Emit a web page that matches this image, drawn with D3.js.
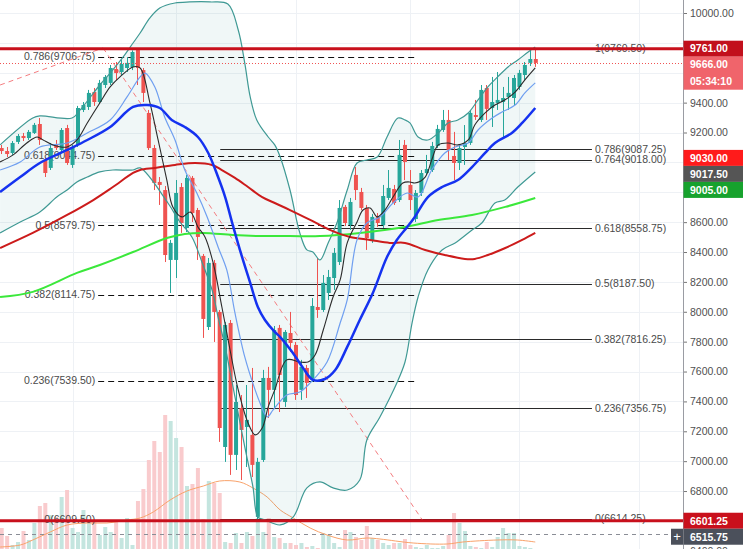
<!DOCTYPE html>
<html>
<head>
<meta charset="utf-8">
<script src="https://cdn.jsdelivr.net/npm/d3@7"></script>
<style>
body { margin: 0; background: #fff; }
svg { display: block; font-family: "Liberation Sans", Arial, sans-serif; }
</style>
</head>
<body>
<script>
// daily candles (index 0 = leftmost)
let opens  = [9096,9076,9063,9137,9177,9163,9197,9257,9016,8963,9117,9083,9230,8983,9117,9351,9371,9471,9404,9518,
              9532,9625,9605,9632,9638,9752,9618,9331,9096,8869,8815,8347,8347,8835,8561,8896,8681,8374,7898,8327,
              7999,7095,7925,7042,7356,7229,7176,6627,7008,7557,7477,7892,7396,7858,7778,7477,7624,7544,8032,8012,
              8126,8226,8333,8702,8581,8916,8802,8695,8481,8635,8581,8762,8822,8748,9117,8849,8621,8795,8929,8949,
              9110,9217,9284,9043,8996,9103,9130,9317,9284,9498,9364,9398,9404,9438,9431,9505,9585,9666,9692]
let highs  = [9117,9103,9143,9190,9197,9217,9264,9297,9030,9130,9150,9230,9251,9117,9378,9404,9485,9498,9552,9585,
              9652,9672,9685,9705,9750,9760,9632,9351,9117,8902,8842,8481,8882,8862,8916,8909,8695,8387,8360,8347,
              8012,7932,7945,7510,7443,7510,7624,7022,7611,7631,7905,7912,7878,7999,7798,7678,7644,8092,8360,8246,
              8280,8427,8748,8715,8762,8969,8829,8715,8655,8661,8849,8949,8849,9150,9150,8949,8815,8949,9050,9137,
              9251,9351,9351,9204,9117,9250,9351,9418,9518,9518,9572,9605,9505,9572,9585,9619,9672,9752,9761]
let lows   = [9056,9036,9050,9123,9143,9150,9190,9117,8902,8949,9083,9070,8983,8963,9103,9337,9351,9378,9391,9498,
              9518,9552,9585,9605,9618,9518,9404,9083,8815,8715,8333,8126,8226,8528,8534,8601,8347,7825,7878,7798,
              7129,6995,6908,6941,6874,6961,6894,6610,6995,7289,7356,7329,7363,7731,7410,7410,7423,7530,7959,7999,
              8079,8146,8313,8574,8548,8748,8681,8414,8461,8568,8561,8748,8715,8735,8882,8681,8601,8775,8916,8936,
              9096,9204,9016,8882,8949,8983,9117,9284,9270,9284,9237,9351,9170,9351,9384,9485,9552,9645,9639]
let closes = [9076,9056,9130,9177,9163,9204,9251,9150,8929,9096,9096,9217,8996,9103,9364,9384,9465,9404,9532,9572,
              9632,9598,9659,9666,9739,9632,9465,9096,8862,8849,8380,8461,8795,8594,8896,8661,8501,7952,8327,7999,
              7222,7912,7042,7396,7209,7276,6975,6995,7557,7477,7878,7577,7865,7791,7443,7631,7524,8039,8012,8193,
              8233,8394,8695,8594,8735,8815,8695,8494,8635,8594,8775,8829,8728,9050,9003,8748,8795,8929,8956,9110,
              9224,9284,9083,8996,9096,9130,9331,9304,9485,9358,9404,9418,9431,9465,9565,9599,9652,9692,9666]
let volumes = [2400,1600,700,1000,2100,1200,2900,4600,4900,3700,3500,5500,6200,2400,2000,4200,2900,3200,1700,2500,
               2000,3000,1400,3400,700,5100,6300,9200,11100,10000,13700,13100,11400,10500,6600,6800,8400,3300,7100,6900,
               5900,1000,900,1900,900,2000,1600,3400,2000,3400,1500,1400,900,900,700,900,500,600,400,1900,
               1700,900,500,2200,2000,1500,1200,2600,1400,1200,900,700,900,900,1300,700,500,400,700,400,
               400,600,1700,3900,2900,2100,600,500,400,1000,500,1500,2400,1900,1900,600,500,400,300]

// indicator lines, [candle index, value]
let bbUpper = [[-0.3,9117],[5.7,9297],[7,9311],[12.9,9297],[14.4,9351],[18,9518],[19.9,9598],[22.3,9706],[24.1,9799],
  [25.4,9866],[27.2,9967],[29,10033],[31.8,10067],[34.5,10074],[38.2,10074],[41.5,10060],[43.4,9886],[44.6,9665],
  [45.6,9438],[46.8,9284],[48.9,9170],[50.1,9117],[51.1,9036],[52.9,8815],[54.7,8528],[56,8414],[57.1,8400],
  [58.4,8347],[59.9,8461],[61.5,8594],[63.4,8815],[65.2,8996],[67,9016],[68.9,9036],[70.7,9170],[72.7,9297],
  [74,9284],[74.9,9264],[76.4,9170],[78.2,9150],[80.1,9197],[81.9,9264],[83.7,9284],[85.6,9331],[87.4,9418],
  [89.2,9505],[91,9572],[92.9,9639],[94.7,9685],[96.6,9739],[97.9,9772]]
let bbLower = [[-0.3,8528],[3.4,8601],[7,8668],[10.1,8768],[12,8815],[13.8,8869],[15.7,8902],[18,8936],[20.4,8949],
  [24.1,8949],[25.4,8963],[30.5,8728],[32.7,8601],[34.9,8501],[36.8,8327],[38.6,8146],[39.7,7965],[41,7765],
  [42.8,7430],[44.6,7095],[46.1,6828],[47,6627],[48.3,6607],[51.1,6573],[53.5,6627],[56,6821],[58.4,6861],
  [60.8,6821],[63.4,6807],[65.7,6874],[67,7142],[69.4,7296],[72.5,7524],[74,7664],[75.3,7925],[76.4,8099],
  [78.2,8280],[80.8,8414],[83.2,8461],[86.3,8548],[88.1,8594],[90.5,8728],[92.3,8748],[94.7,8835],[97.9,8936]]
let blueMA = [[-0.3,8802],[3.4,8902],[7,8996],[12,9083],[15.7,9150],[19.9,9237],[24.1,9371],[26.7,9384],[29,9364],
  [31.2,9284],[33.6,9237],[36,9170],[37.9,9063],[39.7,8902],[41,8768],[42.3,8594],[44.1,8367],[45.6,8193],[47,8032],
  [48.3,7945],[50.1,7865],[51.1,7831],[53.3,7731],[55.3,7624],[57.1,7544],[59.3,7550],[61.2,7610],[63.4,7765],
  [65.7,7945],[68.1,8126],[70.7,8367],[72.5,8481],[74.4,8568],[75.8,8635],[78.2,8768],[80.8,8835],[83.7,8882],
  [86.3,8969],[88.7,9063],[90.5,9130],[93.6,9197],[95.5,9264],[97.9,9364]]
let redMA = [[-0.3,8427],[5.7,8528],[12,8648],[16.8,8748],[20.4,8835],[24.1,8929],[25.4,8949],[28.1,8963],[31.8,8983],
  [35.5,8996],[38.6,8983],[40.4,8949],[42.8,8896],[45.2,8835],[47.8,8768],[50.1,8728],[52.9,8681],[56.6,8615],
  [60.2,8548],[63.9,8501],[67.6,8481],[71.2,8461],[74,8461],[77.7,8414],[81.3,8380],[85,8354],[86.8,8354],
  [89.2,8380],[92.4,8427],[95.5,8481],[97.9,8528]]
let greenMA = [[-0.3,8099],[5.7,8133],[13.8,8260],[18,8313],[24.1,8400],[30.3,8494],[33.6,8521],[37,8528],[42.4,8514],
  [47.4,8507],[52.9,8507],[58.4,8507],[65.7,8528],[74,8568],[80.1,8615],[86.3,8648],[92.4,8702],[97.9,8762]]
let blackMA = [[-0.3,9003],[2.1,9050],[4.6,9130],[6.5,9170],[7.6,9150],[9.4,9117],[12,9103],[13.8,9150],[15.7,9264],
  [18,9398],[19.9,9505],[21.7,9572],[24.1,9639],[25.4,9632],[27.2,9398],[28.7,9150],[30.3,8882],[31.4,8702],
  [33.1,8635],[34.6,8668],[36,8568],[37.3,8501],[38.8,8327],[40.4,8032],[41.9,7744],[43.4,7477],[45.2,7256],
  [46.5,7176],[47.8,7222],[48.9,7363],[50.1,7477],[52.3,7678],[54.7,7664],[56.2,7664],[57.5,7711],[59,7878],
  [60.8,8099],[62.1,8213],[63.4,8461],[65.2,8601],[66.3,8681],[67.6,8695],[68.9,8635],[70.3,8681],[71.8,8768],
  [73.6,8862],[74.9,8869],[75.8,8862],[77.7,8902],[78.9,9016],[80.1,9117],[81.9,9130],[83.7,9117],[85.6,9150],
  [86.8,9250],[88.7,9331],[90.5,9384],[92.3,9418],[94.2,9471],[96,9552],[97.9,9632]]
let lightBlueMA = [[-0.3,8949],[3.4,9003],[7,9103],[12,9130],[15.7,9197],[19.9,9284],[23,9438],[25.4,9572],[26.3,9598],
  [28.1,9505],[29.9,9304],[31.8,9150],[33.6,8949],[35.8,8795],[37.7,8635],[39.7,8434],[41.3,8280],[42.8,7992],
  [44.6,7698],[46.5,7477],[47.4,7390],[48.7,7296],[49.8,7343],[52.3,7443],[54.7,7463],[56.6,7524],[59.7,7664],
  [62.1,7925],[63.4,8079],[65.2,8481],[67,8594],[69.4,8635],[71.8,8728],[74.4,8795],[76.4,8768],[78.9,8949],
  [81.3,9063],[83.2,9103],[85.6,9130],[87.4,9217],[90,9297],[91.8,9337],[94.2,9384],[96,9465],[97.9,9532]]
let volMA = [[-0.3,500],[3.4,700],[5.7,1200],[8.9,2000],[12,2700],[15.7,2900],[19.3,2900],[23,3200],[25.4,3400],
  [27.8,4000],[30.9,5200],[34,6100],[37,6600],[40,7100],[43.7,7000],[46.1,6400],[48.7,5500],[51.1,4200],[53.5,3400],
  [56.6,2400],[59.7,1700],[63.4,1200],[67,1400],[69.4,1300],[75.5,900],[81.7,800],[84.6,1000],[90.9,1200],
  [94.6,1200],[97.9,1000]]

// drawings
let leftFib = [["0.786", 9706.75], ["0.618", 9044.75], ["0.5", 8579.75], ["0.382", 8114.75], ["0.236", 7539.50], ["0", 6609.50]]
let leftFibSpan = [17.7, 76.2]
let rightFib = [["1", 9760.50], ["0.786", 9087.25], ["0.764", 9018.00], ["0.618", 8558.75], ["0.5", 8187.50],
                ["0.382", 7816.25], ["0.236", 7356.75], ["0", 6614.25]]
let rightFibSpan = [40.1, 108.3]
let trendLines = [[[-0.3, 9518], [18.6, 9766]], [[18.6, 9766], [77.3, 6600]]]
let redLevels = [9761, 6601.25]
let lastPrice = 9666
let greyLevel = 6515.75

// price scale
let priceTicks = [6400,6600,6800,7000,7200,7400,7600,7800,8000,8200,8400,8600,8800,9000,9200,9400,9600,9800,10000]
let timeGrid = [13, 32, 54, 75, 95, 117]
let axisLabels = [
    {price: 9761, text: "9761.00", fill: "#c2101c"},
    {price: 9666, text: "9666.00", sub: "05:34:10", fill: "#f0646b"},
    {price: 9030, text: "9030.00", fill: "#ff1b1b"},
    {price: 9017.5, text: "9017.50", fill: "#555555"},
    {price: 9005, text: "9005.00", fill: "#17a22d"},
    {price: 6601.25, text: "6601.25", fill: "#c9101c"},
    {price: 6515.75, text: "6515.75", fill: "#4b505b"}
]

draw()

function draw() {
    let w = 743, h = 549
    let right = 683
    let x = d3.scaleLinear().domain([0, 98]).range([1.7, 535.8])
    let y = d3.scaleLinear().domain([6400, 10000]).range([550.8, 13])
    let yVol = d3.scaleLinear().domain([0, 14000]).range([552, 412])
    let up = "#26a69a", down = "#ef5350"
    let idx = d3.range(opens.length)
    let crisp = v => Math.round(v) + 0.5

    let svg = d3.select("body").append("svg")
        .attr("width", w)
        .attr("height", h)
    svg.append("defs").append("clipPath").attr("id", "plot")
        .append("rect").attr("width", right).attr("height", h)
    let g = svg.append("g").attr("clip-path", "url(#plot)")

    // grid
    g.append("g").selectAll("line").data(priceTicks).enter().append("line")
        .attr("x1", 0).attr("x2", right)
        .attr("y1", d => crisp(y(d))).attr("y2", d => crisp(y(d)))
        .style("stroke", "#eef1f5")
    g.append("g").selectAll("line").data(timeGrid).enter().append("line")
        .attr("x1", d => crisp(x(d))).attr("x2", d => crisp(x(d)))
        .attr("y1", 0).attr("y2", h)
        .style("stroke", "#eef1f5")

    // volume
    g.append("g").selectAll("rect").data(idx).enter().append("rect")
        .attr("x", i => x(i) - 2)
        .attr("width", 4)
        .attr("y", i => yVol(volumes[i]))
        .attr("height", i => yVol(0) - yVol(volumes[i]))
        .style("fill", i => closes[i] >= opens[i] ? "#c4e5df" : "#f9cbcd")
    let line = d3.line().x(d => x(d[0])).y(d => y(d[1])).curve(d3.curveCatmullRom)
    let volLine = d3.line().x(d => x(d[0])).y(d => yVol(d[1])).curve(d3.curveCatmullRom)
    g.append("path").attr("d", volLine(volMA))
        .style("fill", "none").style("stroke", "#f9a26a").style("stroke-width", 1)

    // bollinger band fill
    let band = line(bbUpper) + "L" + line(bbLower.slice().reverse()).slice(1) + "Z"
    g.append("path").attr("d", band).style("fill", "#2e8f8a").style("fill-opacity", 0.07)

    // fib retracements (under the candles)
    let lf = g.append("g")
    lf.selectAll("line").data(leftFib).enter().append("line")
        .attr("x1", x(leftFibSpan[0])).attr("x2", x(leftFibSpan[1]))
        .attr("y1", d => crisp(y(d[1]))).attr("y2", d => crisp(y(d[1])))
        .style("stroke", "#111").style("stroke-dasharray", "6,4")
    lf.selectAll("text").data(leftFib).enter().append("text")
        .attr("x", x(leftFibSpan[0]) - 3).attr("y", d => y(d[1]))
        .attr("dy", "0.35em").attr("text-anchor", "end")
        .style("font-size", "10.5px").style("fill", "#4a4a4a")
        .text(d => d[0] + "(" + d[1].toFixed(2) + ")")
    let rf = g.append("g")
    rf.selectAll("line").data(rightFib).enter().append("line")
        .attr("x1", x(rightFibSpan[0])).attr("x2", x(rightFibSpan[1]))
        .attr("y1", d => crisp(y(d[1]))).attr("y2", d => crisp(y(d[1])))
        .style("stroke", "#2a2a2a")
    rf.selectAll("text").data(rightFib).enter().append("text")
        .attr("x", x(rightFibSpan[1]) + 3).attr("y", d => y(d[1]))
        .attr("dy", "0.35em")
        .style("font-size", "10.5px").style("fill", "#4a4a4a")
        .text(d => d[0] + "(" + d[1].toFixed(2) + ")")

    // trend lines
    g.append("g").selectAll("path").data(trendLines).enter().append("path")
        .attr("d", d3.line().x(d => x(d[0])).y(d => y(d[1])))
        .style("stroke", "#f47d80").style("stroke-dasharray", "5,4").style("fill", "none")

    // candles
    let c = g.append("g")
    c.selectAll("line").data(idx).enter().append("line")
        .attr("x1", i => crisp(x(i) - 0.5)).attr("x2", i => crisp(x(i) - 0.5))
        .attr("y1", i => y(highs[i])).attr("y2", i => y(lows[i]))
        .style("stroke", i => closes[i] >= opens[i] ? up : down)
    c.selectAll("rect").data(idx).enter().append("rect")
        .attr("x", i => x(i) - 2)
        .attr("width", 4)
        .attr("y", i => y(Math.max(opens[i], closes[i])))
        .attr("height", i => Math.max(1, Math.abs(y(opens[i]) - y(closes[i]))))
        .style("fill", i => closes[i] >= opens[i] ? up : down)

    // indicator lines
    let series = [
        [bbUpper, "#3f9994", 1.2], [bbLower, "#3f9994", 1.2],
        [greenMA, "#3be83b", 2], [redMA, "#cc1b1b", 2],
        [lightBlueMA, "#6f9ff0", 1.2], [blackMA, "#2b2b2b", 1.1], [blueMA, "#1532f0", 2.5]
    ]
    g.append("g").selectAll("path").data(series).enter().append("path")
        .attr("d", d => line(d[0]))
        .style("fill", "none")
        .style("stroke", d => d[1])
        .style("stroke-width", d => d[2])

    // horizontal levels
    g.append("line").attr("x1", 0).attr("x2", right)
        .attr("y1", crisp(y(lastPrice))).attr("y2", crisp(y(lastPrice)))
        .style("stroke", "#f05454").style("stroke-dasharray", "1,2")
    g.append("line").attr("x1", 0).attr("x2", right)
        .attr("y1", crisp(y(greyLevel))).attr("y2", crisp(y(greyLevel)))
        .style("stroke", "#8a8d96").style("stroke-dasharray", "4,4")
    g.append("g").selectAll("line").data(redLevels).enter().append("line")
        .attr("x1", 0).attr("x2", right)
        .attr("y1", d => y(d)).attr("y2", d => y(d))
        .style("stroke", "#c8101c").style("stroke-width", 3)

    // stack the price labels so they don't run into each other
    let bottom = -Infinity
    axisLabels.forEach(d => {
        d.hgt = d.sub ? 33 : 16
        d.top = Math.max(y(d.price) - 8, bottom)
        bottom = d.top + d.hgt
    })
    // tick labels hidden under a price label are left out
    let shown = priceTicks.filter(p => !axisLabels.some(d => y(p) > d.top - 6 && y(p) < d.top + d.hgt + 6))

    // price axis
    let axis = d3.axisRight(y).tickValues(shown).tickFormat(d3.format(".2f")).tickSize(4)
    let ga = svg.append("g").attr("transform", "translate(" + right + ",0)").call(axis)
        .attr("font-family", "Liberation Sans, Arial, sans-serif")
    ga.select(".domain").remove()
    ga.selectAll("line").style("stroke", "#777")
    ga.selectAll("text").style("font-size", "10.5px").style("fill", "#4f4f4f")
    svg.append("line").attr("x1", right + 0.5).attr("x2", right + 0.5).attr("y1", 0).attr("y2", h)
        .style("stroke", "#9a9ca3")

    let lab = svg.append("g").selectAll("g").data(axisLabels).enter().append("g")
    lab.append("rect")
        .attr("x", right + 0.5).attr("width", w - right)
        .attr("y", d => d.top).attr("height", d => d.hgt)
        .style("fill", d => d.fill)
    lab.append("text")
        .attr("x", right + 7).attr("y", d => d.top + 8).attr("dy", "0.36em")
        .style("font-size", "10.5px").style("font-weight", "bold").style("fill", "#fff")
        .text(d => d.text)
    lab.filter(d => d.sub).append("text")
        .attr("x", right + 7).attr("y", d => d.top + 25).attr("dy", "0.36em")
        .style("font-size", "10.5px").style("font-weight", "bold").style("fill", "#fff")
        .text(d => d.sub)

    // the little "+" button next to the crosshair label
    let last = axisLabels[axisLabels.length - 1]
    svg.append("rect").attr("x", right - 12).attr("y", last.top).attr("width", 12).attr("height", last.hgt)
        .style("fill", "#4b505b")
    svg.append("text").attr("x", right - 6).attr("y", last.top + 8).attr("dy", "0.36em")
        .attr("text-anchor", "middle").style("font-size", "13px").style("fill", "#fff").text("+")
}
</script>
</body>
</html>
